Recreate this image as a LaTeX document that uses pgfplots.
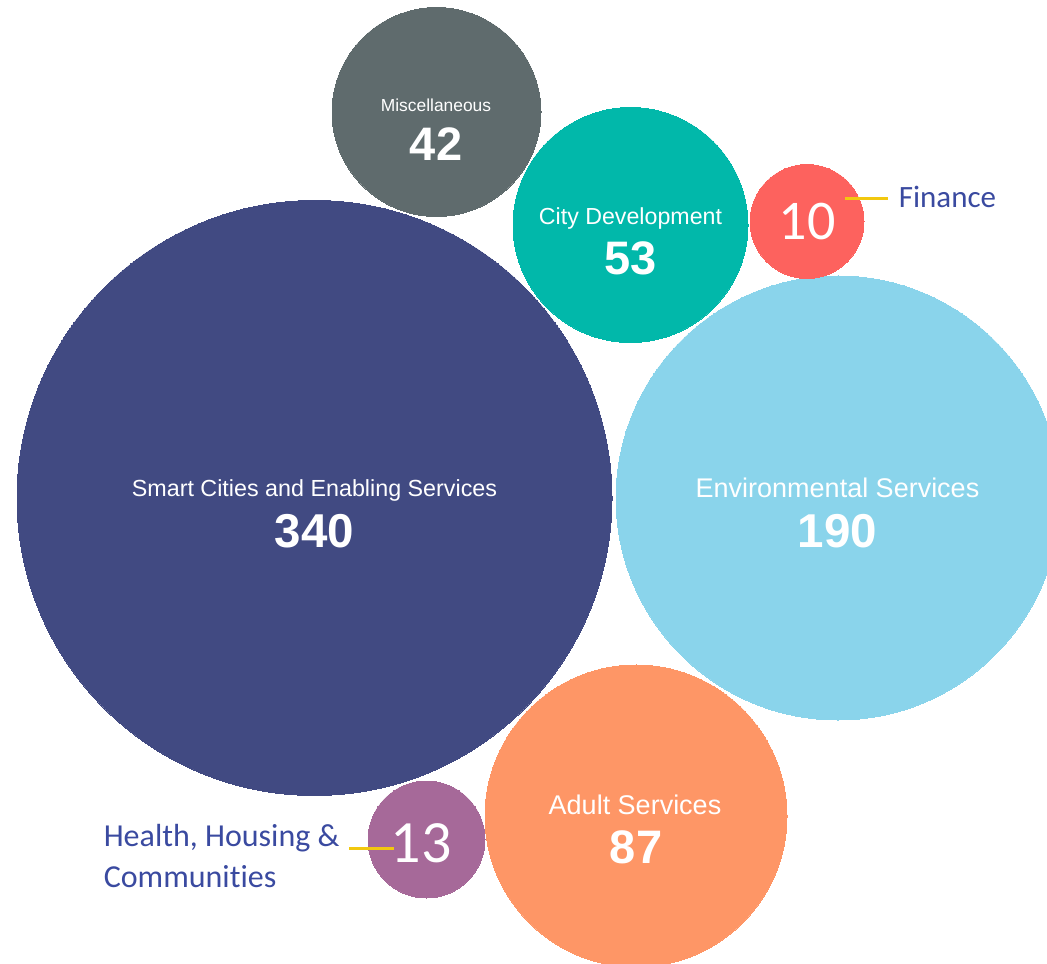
\documentclass[border=0pt]{standalone}
\usepackage{fontspec}
\setmainfont{Liberation Sans}
\newfontfamily\carl[Ligatures={NoCommon}]{Carlito}
\usepackage{pgfplots}
\pgfplotsset{compat=1.18}

\definecolor{cSmart}{HTML}{414A82}
\definecolor{cEnv}{HTML}{8AD4EB}
\definecolor{cAdult}{HTML}{FE9666}
\definecolor{cHealth}{HTML}{A66999}
\definecolor{cMisc}{HTML}{5F6B6D}
\definecolor{cCity}{HTML}{01B8AA}
\definecolor{cFin}{HTML}{FD625E}
\definecolor{cLbl}{HTML}{3A4AA0}
\definecolor{cLine}{HTML}{F2C80F}

% 1 px of the reference = 0.25pt
\newcommand{\fs}[1]{\fontsize{\fpeval{#1*0.25}pt}{\fpeval{#1*0.25}pt}\selectfont}
\pgfplotsset{bubble/.style={only marks, mark=*, color=#1,
    mark options={draw=#1, fill=#1, line width=0pt}}}

\begin{document}
\begin{tikzpicture}
  \begin{axis}[
    set layers=standard,
    width=261.75pt, height=240.75pt, scale only axis,
    xmin=0, xmax=1047, ymin=0, ymax=963,
    enlargelimits=false,
    axis lines=none, ticks=none]

    % bubbles: centre and radius (px) -> mark size = r*0.25pt
    \addplot[bubble=cSmart,  mark size=74.375pt] coordinates {(314.5,465)};
    \addplot[bubble=cEnv,    mark size=55.5pt]   coordinates {(838,465)};
    \addplot[bubble=cAdult,  mark size=37.75pt]  coordinates {(636,147)};
    \addplot[bubble=cHealth, mark size=14.625pt] coordinates {(426.5,123.5)};
    \addplot[bubble=cMisc,   mark size=26.125pt] coordinates {(436.5,851)};
    \addplot[bubble=cCity,   mark size=29.375pt] coordinates {(630.5,738)};
    \addplot[bubble=cFin,    mark size=14.25pt]  coordinates {(807,741.5)};

    \begin{pgfonlayer}{axis foreground}
    % labels inside
    \node[anchor=base, text=white, font=\fs{23.3}] at (axis cs:314.5,466) {Smart Cities and Enabling Services};
    \node[anchor=base, text=white, font=\fs{47.5}\bfseries] at (axis cs:314.5,415) {340};
    \node[anchor=base, text=white, font=\fs{27}] at (axis cs:837.5,465) {Environmental Services};
    \node[anchor=base, text=white, font=\fs{47.5}\bfseries] at (axis cs:837.5,415) {190};
    \node[anchor=base, text=white, font=\fs{27}] at (axis cs:635,149) {Adult Services};
    \node[anchor=base, text=white, font=\fs{47}\bfseries] at (axis cs:636,100) {87};
    \node[anchor=base, text=white, font=\fs{17.4}] at (axis cs:436,851) {Miscellaneous};
    \node[anchor=base, text=white, font=\fs{47}\bfseries] at (axis cs:436,802) {42};
    \node[anchor=base, text=white, font=\fs{23.2}] at (axis cs:630.5,738) {City Development};
    \node[anchor=base, text=white, font=\fs{47}\bfseries] at (axis cs:630.5,688) {53};
    \node[anchor=base, text=white, font=\carl\fs{56}] at (axis cs:807,723) {10};
    \node[anchor=base, text=white, font=\carl\fs{60}] at (axis cs:421,101) {13};

    % outside labels
    \draw[cLine, line width=0.75pt] (axis cs:845,764) -- (axis cs:888,764);
    \node[anchor=base west, inner sep=0pt, text=cLbl, font=\carl\fs{31}] at (axis cs:898,755) {Finance};
    \draw[cLine, line width=0.75pt] (axis cs:349,115) -- (axis cs:394,115);
    \node[anchor=base west, inner sep=0pt, text=cLbl, font=\carl\fs{32}] at (axis cs:103,117) {Health, Housing \&};
    \node[anchor=base west, inner sep=0pt, text=cLbl, font=\carl\fs{32}] at (axis cs:103,76) {Communities};
    \end{pgfonlayer}
  \end{axis}
  \pgfresetboundingbox
  \path (current axis.south west) rectangle (current axis.north east);
\end{tikzpicture}
\end{document}
